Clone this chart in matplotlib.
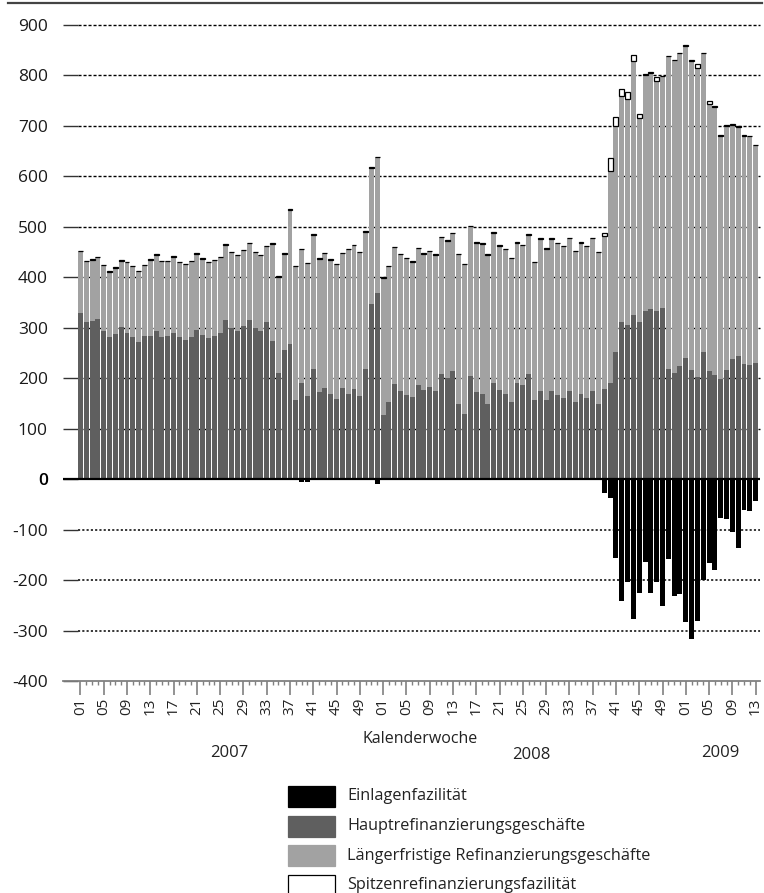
import numpy as np
import matplotlib.pyplot as plt
from matplotlib.patches import Rectangle
from matplotlib.lines import Line2D
import matplotlib.transforms as mtransforms

# Wochenwerte: 2007 KW01-52, 2008 KW01-52, 2009 KW01-13
haupt = [330, 311, 313, 318, 293, 281, 287, 302, 289, 281, 271, 283, 284, 293, 281, 283,
         289, 281, 276, 281, 296, 285, 279, 283, 289, 315, 299, 293, 303, 316, 299, 293,
         311, 274, 211, 256, 268, 156, 191, 164, 219, 172, 181, 169, 159, 181, 169, 179,
         164, 219, 348, 368,
         127, 152, 189, 175, 167, 162, 187, 177, 183, 175, 209, 200, 215, 149, 129, 205,
         173, 169, 149, 191, 177, 169, 153, 191, 187, 209, 156, 175, 156, 175, 166, 160,
         175, 152, 168, 160, 175, 149, 179, 191, 251, 312, 306, 326, 312, 334, 338, 334,
         340, 219, 211, 224,
         240, 217, 203, 252, 215, 207, 199, 217, 238, 245, 228, 226, 230]

laenger = [122, 121, 122, 122, 131, 130, 132, 131, 141, 141, 141, 141, 151, 152, 151, 149,
           152, 149, 150, 151, 151, 152, 151, 151, 151, 150, 151, 151, 151, 151, 151, 151,
           151, 192, 190, 191, 266, 266, 265, 264, 265, 265, 267, 266, 267, 267, 287, 285,
           286, 271, 269, 270,
           272, 270, 271, 271, 271, 269, 271, 270, 269, 270, 270, 272, 272, 297, 297, 296,
           295, 297, 296, 297, 286, 287, 285, 277, 277, 275, 274, 301, 301, 301, 301, 302,
           302, 300, 300, 302, 302, 301, 302, 420, 448, 448, 447, 503, 403, 467, 467, 456,
           458, 619, 619, 620,
           619, 612, 612, 592, 529, 531, 482, 483, 464, 453, 453, 454, 432]

einlagen = [0] * 38 + [-5, -5] + [0] * 11 + [-9] + [0] * 38 + \
           [-28, -38, -156, -241, -203, -278, -225, -164, -225, -203, -251, -159, -231, -228,
            -283, -317, -281, -199, -166, -181, -76, -79, -105, -136, -62, -64, -44]

spitzen = [1] * 90 + [7, 25, 18, 14, 14, 12, 9, 1, 1, 6, 1, 1, 1, 1, 1, 1, 8, 1, 6] + [1] * 8

wochen = ['01', '05', '09', '13', '17', '21', '25', '29', '33', '37', '41', '45', '49'] * 2 + \
         ['01', '05', '09', '13']
jahre = ['2007', '2008', '2009']
legende = ['Einlagenfazilität', 'Hauptrefinanzierungsgeschäfte',
           'Längerfristige Refinanzierungsgeschäfte', 'Spitzenrefinanzierungsfazilität']

W, H = 764, 893
fig = plt.figure(figsize=(W / 100, H / 100), dpi=100)
ax = fig.add_axes([63 / W, (H - 681) / H, (760 - 63) / W, (681 - 25) / H])

x = np.arange(len(haupt))
haupt = np.array(haupt)
laenger = np.array(laenger)
spitzen = np.array(spitzen)
bw = 0.85

c_dunkel = '#5f5f5f'
c_hell = '#a2a2a2'

ax.bar(x, haupt, bw, color=c_dunkel, zorder=3)
ax.bar(x, laenger, bw, bottom=haupt, color=c_hell, zorder=3)
ax.bar(x, spitzen, bw, bottom=haupt + laenger, color='white', edgecolor='black',
       linewidth=[0.9 if s > 0 else 0 for s in spitzen], zorder=3)
ax.bar(x, einlagen, bw, color='black', zorder=3)

xmin, xmax = -3.0, 116.75
ax.set_xlim(xmin, xmax)
ax.set_ylim(-400, 900)

# Gitterlinien
for y in range(100, 1000, 100):
    ax.hlines(y, -0.45, xmax, colors='black', linewidth=1, linestyles=(0, (2.2, 1.4)),
              zorder=1, clip_on=False)
for y in [-100, -200, -300]:
    ax.hlines(y, -0.45, xmax, colors='black', linewidth=1.1, linestyles=(0, (1.4, 1.4)),
              zorder=1)
ax.hlines(0, xmin, xmax, colors='black', linewidth=1.6, zorder=5)

for s in ['left', 'right', 'top']:
    ax.spines[s].set_visible(False)
ax.spines['bottom'].set_color('#808080')
ax.spines['bottom'].set_linewidth(1.3)

yt = list(range(-400, 1000, 100))
ax.set_yticks(yt)
ax.set_yticklabels([str(v) for v in yt], fontsize=12.5, family='Open Sans', color='#1a1a1a')
for lab in ax.get_yticklabels():
    if lab.get_text() == '0':
        lab.set_fontweight('semibold')
        lab.set_color('black')
ax.tick_params(axis='y', direction='in', length=10.8, width=1, color='#333333', pad=11)

major_pos = list(range(0, 52, 4)) + list(range(52, 104, 4)) + list(range(104, 117, 4))
ax.set_xticks(major_pos)
ax.set_xticklabels(wochen, rotation=90, fontsize=11, family='Open Sans', color='#222222')
ax.set_xticks(x, minor=True)
ax.tick_params(axis='x', which='major', length=10, width=1.2, color='#808080', pad=2)
ax.tick_params(axis='x', which='minor', length=3, width=1, color='#808080')

fig.text(420 / W, 1 - 739 / H, 'Kalenderwoche', ha='center', va='center', fontsize=11.5,
         family='Open Sans', color='#222222')
trans = mtransforms.blended_transform_factory(ax.transData, fig.transFigure)
for xp, yp, txt in [(25.5, 753, jahre[0]), (77.5, 755, jahre[1]), (110, 753, jahre[2])]:
    ax.text(xp, 1 - yp / H, txt, transform=trans, ha='center', va='center', fontsize=12,
            family='Open Sans', color='#222222')

# Linie oben
fig.add_artist(Line2D([8 / W, 762 / W], [1 - 3 / H, 1 - 3 / H], color='#444444', linewidth=1.6))

# Legende
farben = ['black', c_dunkel, c_hell, 'white']
for k, (lab, col) in enumerate(zip(legende, farben)):
    top = 786 + 29.5 * k
    fig.add_artist(Rectangle((288 / W, 1 - (top + 21) / H), 47 / W, 21 / H,
                             facecolor=col, edgecolor='black' if col == 'white' else col,
                             linewidth=0.9, transform=fig.transFigure))
    fig.text(347 / W, 1 - (top + 10.5) / H, lab, ha='left', va='center', fontsize=11.7,
             family='Open Sans', color='#222222')

plt.savefig('out.png', dpi=100)
